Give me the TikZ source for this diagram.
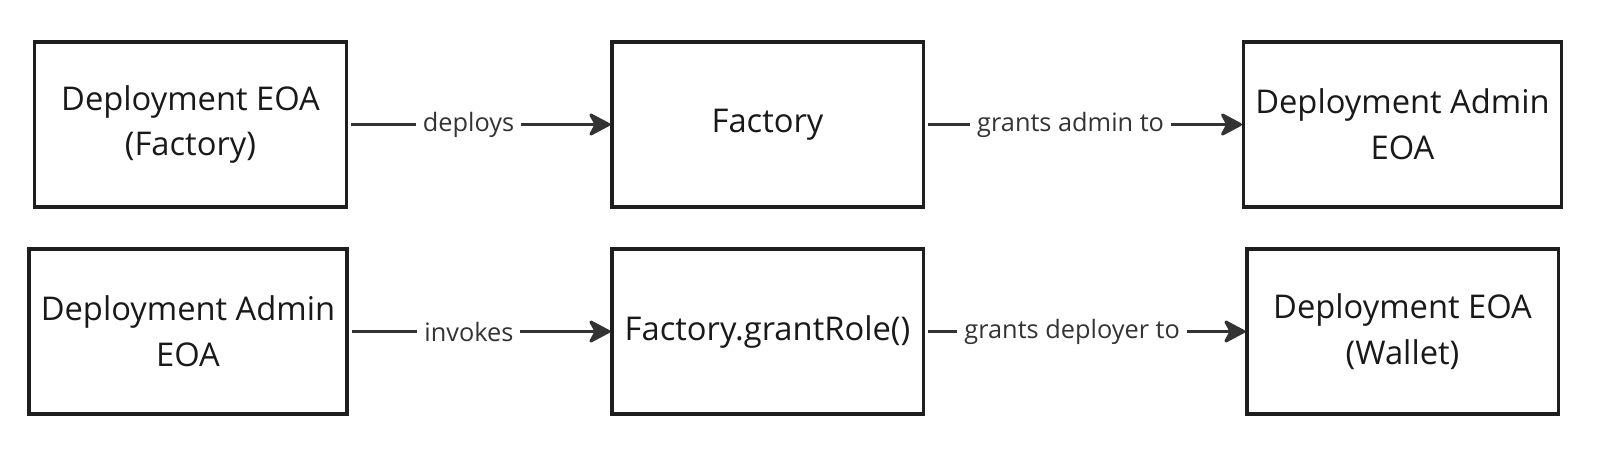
\documentclass[tikz,border=0pt]{standalone}
\usepackage{fontspec}
\setmainfont{Open Sans}
\usetikzlibrary{arrows.meta}
\definecolor{boxline}{HTML}{1E1E1E}
\definecolor{flowline}{HTML}{333333}

\begin{document}
\begin{tikzpicture}[x=0.01cm, y=-0.01cm,
    box/.style={draw=boxline, line width=0.9pt, minimum width=3.11cm, minimum height=1.65cm,
      align=center, text=black!90, font=\fontsize{9.3}{13}\selectfont},
    flow/.style={draw=flowline, line width=0.85pt, shorten <=1pt,
      -{Stealth[length=7pt, width=7.4pt, inset=2pt, round]}},
    tag/.style={fill=white, inner sep=2pt, text=flowline, font=\fontsize{7.2}{9}\selectfont}]
	\useasboundingbox (0,0) rectangle (1600,448);

	% first row
	\node[box] (eoafactory) at (190.5,124.5) {Deployment EOA\\(Factory)};
	\node[box] (factory) at (767.5,124.5) {Factory};
	\node[box] (admintop) at (1402.5,124.5) {Deployment Admin\\EOA};

	\draw[flow] (eoafactory) -- node[tag, pos=0.46] {deploys} (factory);
	\draw[flow] (factory) -- node[tag, pos=0.46] {grants admin to} (admintop);

	% second row
	\node[box] (adminlow) at (188,331.5) {Deployment Admin\\EOA};
	\node[box] (grantrole) at (767.5,331.5) {Factory.grantRole()};
	\node[box] (eoawallet) at (1402.5,331.5) {Deployment EOA\\(Wallet)};

	\draw[flow] (adminlow) -- node[tag, pos=0.46] {invokes} (grantrole);
	\draw[flow] (grantrole) -- node[tag, pos=0.46] {grants deployer to} (eoawallet);
\end{tikzpicture}
\end{document}
